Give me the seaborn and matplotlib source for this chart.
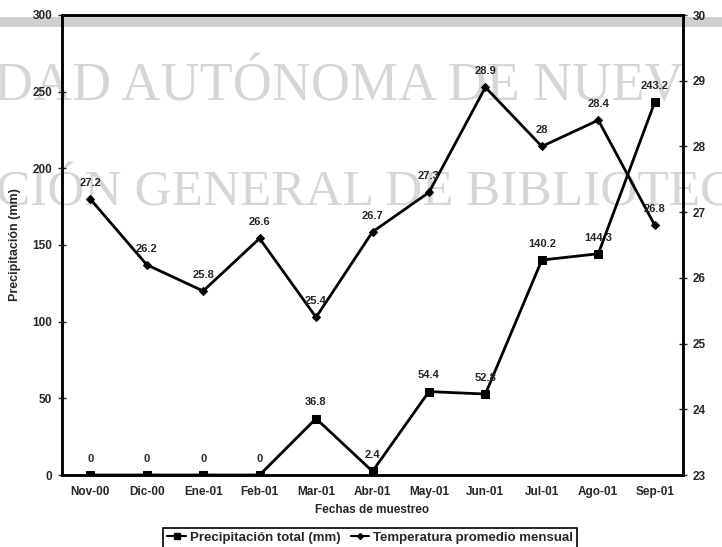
import matplotlib
matplotlib.use("Agg")
import numpy as np
import pandas as pd
import seaborn as sns
from matplotlib import pyplot as plt
from matplotlib.lines import Line2D
from matplotlib.patches import Rectangle

meses = ["Nov-00", "Dic-00", "Ene-01", "Feb-01", "Mar-01", "Abr-01",
         "May-01", "Jun-01", "Jul-01", "Ago-01", "Sep-01"]
precipitacion = [0, 0, 0, 0, 36.8, 2.4, 54.4, 52.8, 140.2, 144.3, 243.2]
temperatura = [27.2, 26.2, 25.8, 26.6, 25.4, 26.7, 27.3, 28.9, 28, 28.4, 26.8]
etiquetas_precip = ["0", "0", "0", "0", "36.8", "2.4", "54.4", "52.8", "140.2", "144.3", "243.2"]
etiquetas_temp = ["27.2", "26.2", "25.8", "26.6", "25.4", "26.7", "27.3", "28.9", "28", "28.4", "26.8"]

sns.set_style("white")
plt.rcParams["font.family"] = ["Liberation Sans", "DejaVu Sans"]

df = pd.DataFrame({"mes": meses, "precip": precipitacion, "temp": temperatura})

fig = plt.figure(figsize=(7.22, 5.47), dpi=100)

# scan artefacts: grey band and watermark (behind the axes)
fig.patches.append(Rectangle((0, 1 - 27 / 547), 1, 10 / 547, transform=fig.transFigure,
                             facecolor="#cfcfcf", edgecolor="none", zorder=-2))
fig.text(-0.008, 1 - 100 / 547, "DAD AUTÓNOMA DE NUEV", family="Liberation Serif",
         fontsize=39, color="#d6d6d6", ha="left", va="baseline", zorder=-1)
fig.text(-0.006, 1 - 206 / 547, "CIÓN GENERAL DE BIBLIOTEC", family="Liberation Serif",
         fontsize=37, color="#d6d6d6", ha="left", va="baseline", zorder=-1)

ax = fig.add_axes([62 / 722, 1 - 475 / 547, (683 - 62) / 722, (475 - 15) / 547])
ax.patch.set_alpha(0)
ax2 = ax.twinx()
ax2.patch.set_alpha(0)

sns.lineplot(data=df, x="mes", y="precip", ax=ax, color="black", lw=2,
             marker="s", markersize=6, markeredgecolor="black", sort=False)
sns.lineplot(data=df, x="mes", y="temp", ax=ax2, color="black", lw=2,
             marker="D", markersize=4.5, markeredgecolor="black", sort=False)

for i, (v, t) in enumerate(zip(precipitacion, etiquetas_precip)):
    ax.annotate(t, (i, v), xytext=(0, 8), textcoords="offset points",
                ha="center", va="bottom", fontsize=8, fontweight="bold")
for i, (v, t) in enumerate(zip(temperatura, etiquetas_temp)):
    ax2.annotate(t, (i, v), xytext=(0, 8), textcoords="offset points",
                 ha="center", va="bottom", fontsize=8, fontweight="bold")

ax.set_xlim(-0.5, len(meses) - 0.5)
ax.set_ylim(0, 300)
ax.set_yticks(np.arange(0, 301, 50))
ax2.set_ylim(23, 30)
ax2.set_yticks(np.arange(23, 31, 1))

ax.set_xticks(range(len(meses)))
ax.set_xticklabels(meses)
ax.set_xticks(np.arange(0.5, len(meses) - 0.5, 1), minor=True)
ax.tick_params(axis="x", which="major", length=0, pad=8, labelsize=8.5)
ax.tick_params(axis="x", which="minor", length=6, direction="inout", width=1)
ax.tick_params(axis="y", length=6, direction="inout", width=1, labelsize=8.5, pad=4)
ax2.tick_params(axis="y", length=6, direction="inout", width=1, labelsize=8.5, pad=4)
for lab in ax.get_xticklabels() + ax.get_yticklabels() + ax2.get_yticklabels():
    lab.set_fontweight("bold")

ax.set_xlabel("Fechas de muestreo", fontsize=8.5, fontweight="bold", labelpad=4)
ax.set_ylabel("Precipitación (mm)", fontsize=9, fontweight="bold", labelpad=8)
ax2.set_ylabel("Temperatura promedio", fontsize=9, fontweight="bold", labelpad=20)

for a in (ax, ax2):
    for s in a.spines.values():
        s.set_color("black")
        s.set_linewidth(1.8)

handles = [Line2D([], [], color="black", lw=1.5, marker="s", markersize=4),
           Line2D([], [], color="black", lw=1.5, marker="D", markersize=3)]
leg = fig.legend(handles, ["Precipitación total (mm)", "Temperatura promedio mensual"],
                 loc="lower center", bbox_to_anchor=(0.513, -0.014), ncol=2,
                 fancybox=False, framealpha=1, edgecolor="black", handlelength=1.4,
                 handletextpad=0.3, columnspacing=0.8, borderpad=0.3,
                 prop={"size": 9.5, "weight": "bold"})
leg.get_frame().set_linewidth(1.2)

fig.savefig("out.png", dpi=100)
